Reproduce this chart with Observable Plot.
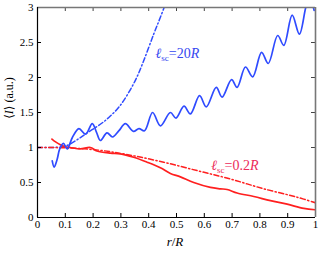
<!DOCTYPE html>
<html>
<head>
<meta charset="utf-8">
<script src="https://cdn.jsdelivr.net/npm/d3@7"></script>
<script src="https://cdn.jsdelivr.net/npm/@observablehq/plot@0.6"></script>
<style>
  body { margin: 0; background: white; }
  svg { display: block; }
  svg text { font-family: "Liberation Serif", "DejaVu Serif", serif; }
</style>
</head>
<body>
<script>
// ---- data ----
const xTicks = [0, 0.1, 0.2, 0.3, 0.4, 0.5, 0.6, 0.7, 0.8, 0.9, 1];
const xTickLabels = ["0", "0.1", "0.2", "0.3", "0.4", "0.5", "0.6", "0.7", "0.8", "0.9", "1"];
const yTicks = [0, 0.5, 1, 1.5, 2, 2.5, 3];
const yTickLabels = ["0", "0.5", "1", "1.5", "2", "2.5", "3"];

// l_sc = 20R, simulation (solid blue)
const blueSolidX = [0.053, 0.06, 0.07, 0.08, 0.093, 0.107, 0.125, 0.149, 0.173, 0.197, 0.212, 0.226, 0.25, 0.27, 0.293, 0.316, 0.345, 0.365, 0.385, 0.414, 0.442, 0.478, 0.498, 0.527, 0.55, 0.583, 0.607, 0.643, 0.664, 0.698, 0.718, 0.748, 0.774, 0.806, 0.83, 0.864, 0.886, 0.916, 0.942, 0.965, 0.978, 0.995];
const blueSolidY = [0.81, 0.72, 0.82, 0.98, 1.06, 0.98, 1.14, 1.27, 1.19, 1.34, 1.22, 1.10, 1.21, 1.15, 1.24, 1.34, 1.23, 1.27, 1.24, 1.50, 1.31, 1.50, 1.42, 1.59, 1.48, 1.74, 1.58, 1.86, 1.72, 1.97, 1.86, 2.15, 2.01, 2.36, 2.20, 2.60, 2.46, 2.89, 2.62, 3.0, 3.15, 2.96];

// l_sc = 20R, theory (dash-dot blue)
const blueDashX = [0, 0.05, 0.1, 0.15, 0.179, 0.214, 0.239, 0.262, 0.287, 0.31, 0.352, 0.382, 0.418, 0.442, 0.47];
const blueDashY = [1.0, 1.0, 1.02, 1.13, 1.21, 1.30, 1.37, 1.45, 1.55, 1.67, 1.96, 2.24, 2.62, 2.86, 3.15];

// l_sc = 0.2R, simulation (solid red)
const redSolidX = [0.052, 0.065, 0.082, 0.1, 0.118, 0.154, 0.19, 0.214, 0.262, 0.298, 0.346, 0.394, 0.442, 0.478, 0.514, 0.562, 0.622, 0.658, 0.682, 0.718, 0.778, 0.838, 0.898, 0.958, 1.0];
const redSolidY = [1.12, 1.08, 1.04, 1.01, 1.0, 0.98, 1.0, 0.95, 0.92, 0.91, 0.86, 0.79, 0.71, 0.63, 0.58, 0.50, 0.43, 0.41, 0.40, 0.35, 0.30, 0.24, 0.19, 0.13, 0.11];

// l_sc = 0.2R, theory (dash-dot red)
const redDashX = [0, 0.1, 0.225, 0.334, 0.454, 0.574, 0.694, 0.814, 0.934, 1.0];
const redDashY = [1.0, 0.995, 0.96, 0.89, 0.79, 0.67, 0.55, 0.41, 0.29, 0.21];

const zip = (xs, ys) => xs.map((x, i) => ({x, y: ys[i]}));

const BLUE = "#2f4bff";
const RED = "#ff1f1f";
const FONT = "Liberation Serif, DejaVu Serif, serif";

const W = 319, H = 253;
const mL = 37, mR = 4, mT = 7, mB = 36;
const plotW = W - mL - mR, plotH = H - mT - mB;
const tick = 4;

const plot = Plot.plot({
  width: W, height: H,
  marginLeft: mL, marginRight: mR, marginTop: mT, marginBottom: mB,
  style: {fontFamily: FONT, fontSize: "11px", background: "white", color: "black"},
  x: {domain: [0, 1]},
  y: {domain: [0, 3]},
  marks: [
    Plot.line(zip(blueDashX, blueDashY), {x: "x", y: "y", stroke: BLUE, strokeWidth: 1.5, strokeDasharray: "5,2.5,1.2,2.5", curve: "catmull-rom", clip: true}),
    Plot.line(zip(redDashX, redDashY), {x: "x", y: "y", stroke: RED, strokeWidth: 1.5, strokeDasharray: "5,2.5,1.2,2.5", curve: "catmull-rom", clip: true}),
    Plot.line(zip(redSolidX, redSolidY), {x: "x", y: "y", stroke: RED, strokeWidth: 1.7, curve: "catmull-rom", clip: true}),
    Plot.line(zip(blueSolidX, blueSolidY), {x: "x", y: "y", stroke: BLUE, strokeWidth: 1.7, curve: "catmull-rom", clip: true}),
    // inward ticks on all four sides
    Plot.tickX(xTicks, {x: d => d, stroke: "black", insetTop: plotH - tick}),
    Plot.tickX(xTicks, {x: d => d, stroke: "#444", insetBottom: plotH - tick}),
    Plot.tickY(yTicks, {y: d => d, stroke: "black", insetRight: plotW - tick}),
    Plot.tickY(yTicks, {y: d => d, stroke: "#444", insetLeft: plotW - tick}),
    // frame
    Plot.ruleY([3], {stroke: "#777", strokeWidth: 1.6}),
    Plot.ruleX([1], {stroke: "#777", strokeWidth: 1.6}),
    Plot.ruleX([0], {stroke: "black", strokeWidth: 1.2}),
    Plot.ruleY([0], {stroke: "black", strokeWidth: 1.2}),
    // tick labels
    Plot.axisX({ticks: xTicks, tickFormat: (d, i) => xTickLabels[i], tickSize: 0, tickPadding: 3, label: null, fontSize: 11}),
    Plot.axisY({ticks: yTicks, tickFormat: (d, i) => yTickLabels[i], tickSize: 0, tickPadding: 4, label: null, fontSize: 11})
  ]
});

const svg = d3.select(plot).attr("font-family", FONT);
const sx = plot.scale("x"), sy = plot.scale("y");

// axis titles
const xl = svg.append("text")
  .attr("x", (mL + W - mR) / 2 - 1).attr("y", 246)
  .attr("text-anchor", "middle")
  .style("font-size", "13px").attr("fill", "black");
xl.append("tspan").style("font-style", "italic").text("r");
xl.append("tspan").text("/");
xl.append("tspan").style("font-style", "italic").text("R");

const yl = svg.append("text")
  .attr("transform", `translate(13, 98) rotate(-90)`)
  .attr("text-anchor", "middle")
  .style("font-size", "12px").attr("fill", "black");
yl.append("tspan").text("⟨");
yl.append("tspan").style("font-style", "italic").text("I");
yl.append("tspan").text("⟩ (a.u.)");

// annotations
function annot(xv, yv, color, num) {
  const t = svg.append("text")
    .attr("x", sx.apply(xv)).attr("y", sy.apply(yv))
    .style("font-size", "14px").attr("fill", color);
  t.append("tspan").style("font-style", "italic").text("ℓ");
  t.append("tspan").attr("dy", 3).style("font-size", "9px").text("sc");
  t.append("tspan").attr("dy", -3).text("=" + num);
  t.append("tspan").style("font-style", "italic").text("R");
}
annot(0.505, 2.27, "#3548f0", "20");
annot(0.712, 0.67, "#ec2a5a", "0.2");

document.body.append(plot);
</script>
</body>
</html>
